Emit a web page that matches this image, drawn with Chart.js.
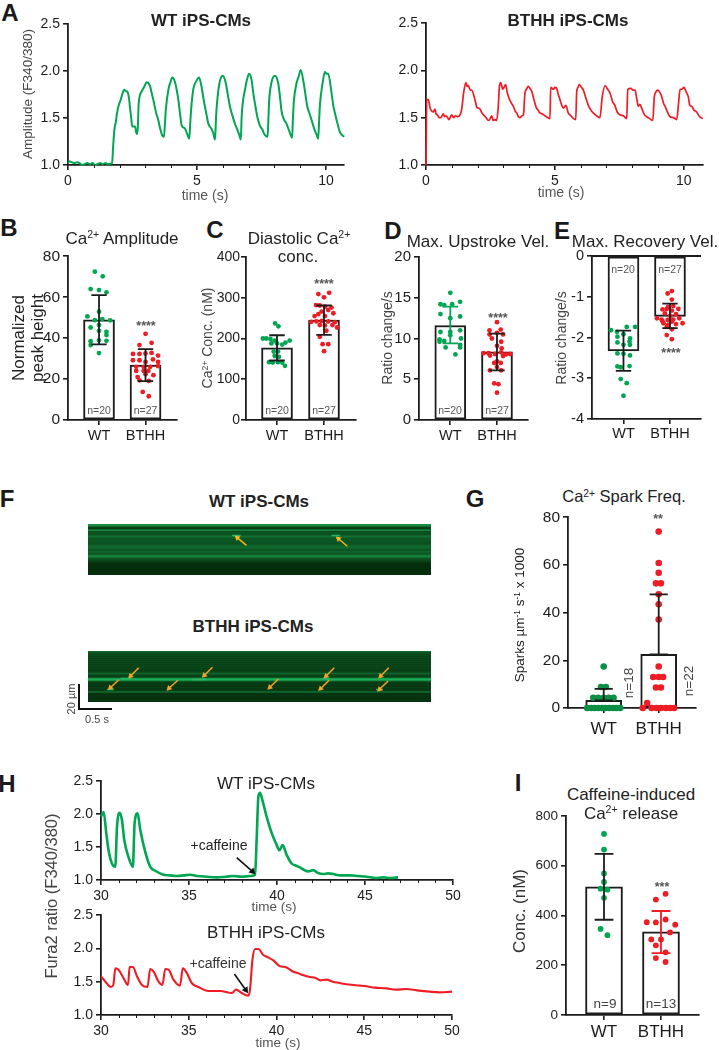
<!DOCTYPE html>
<html>
<head>
<meta charset="utf-8">
<title>Ca2+ handling in iPS-CMs</title>
<script src="https://cdn.jsdelivr.net/npm/chart.js@4/dist/chart.umd.min.js"></script>
<style>
  html, body { margin: 0; background: #fff; }
  body { position: relative; width: 719px; height: 1050px; overflow: hidden; font-family: "Liberation Sans", Arial, sans-serif; }
  canvas { position: absolute; }
  .lbl { position: absolute; white-space: nowrap; transform-origin: center; line-height: 1; }
  .lbl sup { font-size: 0.62em; line-height: 0; vertical-align: 0.5em; }
  .bar-scale { position: absolute; background: #111; }
</style>
</head>
<body>
<script>
// Panel A traces, [time, ratio]
const aWtTrace = [[0,1.02],[.05,1.04],[.15,1.03],[.25,1.02],[.35,1.03],[.45,1.02],[.55,1.0],[.65,1.01],[.75,1.02],[.85,1.01],[.95,1.02],[1.05,1.0],[1.15,1.01],[1.25,1.02],[1.35,1.01],[1.45,1.02],[1.55,1.01],[1.71,1.02],[1.75,1.2],[1.8,1.38],[1.85,1.45],[1.9,1.55],[1.95,1.62],[2.05,1.7],[2.1,1.75],[2.18,1.8],[2.23,1.79],[2.3,1.78],[2.36,1.72],[2.4,1.62],[2.45,1.5],[2.49,1.41],[2.6,1.41],[2.64,1.35],[2.69,1.33],[2.72,1.5],[2.74,1.65],[2.85,1.78],[2.95,1.83],[3.05,1.88],[3.18,1.84],[3.25,1.76],[3.31,1.69],[3.38,1.6],[3.44,1.53],[3.5,1.48],[3.57,1.39],[3.66,1.31],[3.72,1.3],[3.76,1.45],[3.79,1.58],[3.89,1.8],[3.97,1.88],[4.04,1.93],[4.15,1.88],[4.22,1.79],[4.28,1.69],[4.35,1.53],[4.41,1.42],[4.53,1.39],[4.62,1.33],[4.7,1.28],[4.74,1.45],[4.77,1.58],[4.86,1.81],[4.97,1.89],[5.08,1.93],[5.18,1.83],[5.25,1.71],[5.31,1.62],[5.38,1.52],[5.44,1.44],[5.55,1.39],[5.63,1.34],[5.7,1.27],[5.73,1.45],[5.76,1.6],[5.87,1.87],[6.0,1.95],[6.11,1.88],[6.2,1.74],[6.28,1.62],[6.38,1.52],[6.47,1.44],[6.56,1.38],[6.64,1.32],[6.7,1.27],[6.73,1.5],[6.77,1.65],[6.86,1.8],[6.94,1.91],[7.02,1.97],[7.12,1.9],[7.18,1.77],[7.25,1.65],[7.35,1.5],[7.44,1.42],[7.53,1.38],[7.63,1.32],[7.74,1.3],[7.77,1.5],[7.8,1.69],[7.89,1.88],[8.02,1.95],[8.15,1.87],[8.22,1.72],[8.28,1.57],[8.38,1.48],[8.47,1.44],[8.58,1.36],[8.69,1.29],[8.72,1.5],[8.76,1.69],[8.86,1.87],[8.95,1.95],[9.02,2.01],[9.15,1.85],[9.22,1.72],[9.28,1.62],[9.36,1.55],[9.44,1.48],[9.54,1.39],[9.64,1.32],[9.7,1.28],[9.74,1.5],[9.77,1.65],[9.87,1.87],[9.96,1.99],[10.03,1.97],[10.09,1.97],[10.22,1.76],[10.28,1.64],[10.35,1.55],[10.44,1.45],[10.54,1.35],[10.62,1.32],[10.71,1.3]];
const aBthhTrace = [[0,1.0],[.03,1.69],[.09,1.69],[.16,1.6],[.22,1.57],[.28,1.56],[.35,1.59],[.39,1.54],[.44,1.53],[.51,1.5],[.58,1.5],[.67,1.54],[.72,1.51],[.78,1.52],[.84,1.5],[.9,1.48],[.95,1.51],[1.0,1.53],[1.07,1.5],[1.15,1.52],[1.24,1.51],[1.32,1.53],[1.38,1.58],[1.47,1.78],[1.55,1.87],[1.6,1.83],[1.64,1.84],[1.72,1.79],[1.77,1.79],[1.9,1.69],[1.97,1.61],[2.04,1.6],[2.1,1.59],[2.17,1.55],[2.23,1.53],[2.33,1.5],[2.42,1.47],[2.49,1.49],[2.55,1.52],[2.61,1.47],[2.68,1.48],[2.74,1.47],[2.8,1.6],[2.85,1.83],[2.9,1.87],[2.98,1.8],[3.09,1.85],[3.15,1.77],[3.2,1.72],[3.3,1.66],[3.39,1.62],[3.46,1.57],[3.52,1.55],[3.59,1.51],[3.65,1.5],[3.72,1.52],[3.78,1.53],[3.84,1.76],[3.9,1.8],[3.97,1.83],[4.03,1.81],[4.1,1.78],[4.2,1.68],[4.29,1.6],[4.35,1.58],[4.42,1.55],[4.52,1.54],[4.62,1.52],[4.72,1.5],[4.81,1.49],[4.84,1.82],[4.95,1.8],[5.0,1.82],[5.07,1.81],[5.13,1.75],[5.2,1.69],[5.27,1.63],[5.33,1.6],[5.43,1.63],[5.52,1.55],[5.62,1.52],[5.72,1.49],[5.81,1.48],[5.85,1.78],[5.9,1.82],[5.95,1.85],[6.03,1.82],[6.11,1.79],[6.2,1.71],[6.3,1.63],[6.4,1.58],[6.49,1.55],[6.62,1.52],[6.75,1.5],[6.84,1.72],[6.95,1.84],[7.05,1.8],[7.14,1.76],[7.24,1.67],[7.33,1.63],[7.42,1.56],[7.53,1.53],[7.66,1.52],[7.79,1.49],[7.83,1.8],[7.95,1.81],[8.04,1.79],[8.11,1.79],[8.18,1.7],[8.24,1.62],[8.3,1.64],[8.37,1.6],[8.46,1.54],[8.56,1.51],[8.68,1.49],[8.8,1.47],[8.86,1.72],[8.92,1.77],[8.99,1.79],[9.07,1.77],[9.15,1.72],[9.22,1.65],[9.28,1.62],[9.37,1.56],[9.47,1.51],[9.6,1.5],[9.73,1.48],[9.8,1.65],[9.86,1.8],[9.93,1.8],[10.01,1.82],[10.1,1.77],[10.18,1.72],[10.24,1.63],[10.31,1.62],[10.4,1.58],[10.5,1.56],[10.62,1.51],[10.74,1.49]];

// Panels B-E, G, I: bar heights, sd limits and the dots (x offset from bar centre, value)
const bMeans = [49, 26.8], bHigh = [61, 34.6], bLow = [37, 19];
const bWtOff = [-.09,.08,-.18,0,.16,-.25,0,-.09,.07,.24,0,-.18,.16,0,.16,-.18,0,.16,-.18,0];
const bWtVal = [72.5,70.2,64,63.5,62.4,50.6,52.9,48.8,49.3,48.7,46.4,45.2,43.1,43.6,41.5,38.5,38.9,38.7,36.6,32.7];
const bBthhOff = [0,-.13,.13,-.27,-.13,0,.13,.27,-.27,-.13,0,.16,.27,-.2,-.04,.1,.27,-.2,-.04,.06,-.17,0,.17,-.13,.07,-.06,.07];
const bBthhVal = [42.1,36.6,37.7,32.3,32.3,32.5,32.8,31.5,29.2,29.2,28.4,29.6,28.4,26,26,26,26.3,24,24,24,21,22.4,21.9,19.4,19.1,13.7,11.6];

const cMeans = [177, 245], cHigh = [208, 281], cLow = [146, 209];
const cWtOff = [-.04,.03,-.3,-.23,-.14,-.05,.27,.18,.11,0,-.12,-.07,.02,-.05,.04,-.17,-.09,.02,.11,.17];
const cWtVal = [237,230,200,200,199,195,195,190,185,188,188,168,168,157,155,142,141,142,141,133];
const cBthhOff = [-.12,.11,0,-.17,-.09,.02,.16,.09,-.05,-.2,-.12,.02,.2,-.27,-.16,-.05,.09,.23,-.09,.02,.18,.28,.05,-.09,.09,-.03,0];
const cBthhVal = [309,312,301,282,281,278,276,270,266,255,260,255,262,241,242,243,242,240,233,232,233,227,219,204,186,186,169];

const dMeans = [11.6, 8.35], dHigh = [13.9, 10.6], dLow = [9.4, 6.1];
const dWtOff = [0,-.21,-.13,.04,.21,-.21,0,.21,-.21,0,.21,0,-.23,-.13,-.23,.23,.21,-.1,.21,.11];
const dWtVal = [15.6,14.2,14.1,14.2,14.5,13,12.5,12.7,10.8,10.8,11,10.4,9.9,9.7,9.6,10,9.2,8.9,8.9,8.05];
const dBthhOff = [0,-.16,.08,0,.13,-.16,-.11,.09,0,.1,-.29,-.18,-.04,.09,.19,.28,-.15,.13,0,-.06,.08,0,-.15,.09,-.06,.03,0];
const dBthhVal = [12,11,11.1,10.7,10.5,10.5,10,9.6,9.1,8.8,8.2,8.2,8.1,8.3,8.05,8.1,7.9,7.85,7.2,7,7,6.5,6.1,6.1,4.5,4.4,3.35];

const eMeans = [-2.33, -1.48], eHigh = [-1.83, -1.17], eLow = [-2.82, -1.77];
const eWtOff = [-.27,-.14,.07,.25,-.13,0,.14,-.13,.13,0,.14,-.13,0,.14,-.13,-.06,.13,-.06,.07,0];
const eWtVal = [-1.82,-1.86,-1.74,-1.74,-1.98,-1.92,-2.02,-2.12,-2.1,-2.18,-2.18,-2.39,-2.4,-2.44,-2.71,-2.73,-2.7,-3.02,-3.12,-3.43];
const eBthhOff = [.04,-.05,.04,-.04,.07,-.16,-.07,.04,.18,-.11,.01,.13,-.28,-.18,-.05,.07,.2,-.14,-.04,.13,.27,-.07,.04,-.07,.04,-.16,.04];
const eBthhVal = [-.86,-.92,-1.07,-1.25,-1.23,-1.31,-1.3,-1.34,-1.3,-1.41,-1.47,-1.43,-1.53,-1.56,-1.57,-1.56,-1.53,-1.65,-1.69,-1.67,-1.65,-1.74,-1.8,-1.94,-2.04,-1.6,-1.61];

const gMeans = [3.2, 22.5], gHigh = [8, 47.7], gLow = [3.2, 22.5];
const gWtOff = [0,-.05,.04,-.19,-.1,0,.09,.18,-.3,-.23,-.17,-.1,-.03,.03,.1,.17,.23,.3];
const gWtVal = [17.4,8.8,8.8,4.3,4.3,4.3,4.3,4.3,0,0,0,0,0,0,0,0,0,0];
const gBthhOff = [0,0,0,-.05,.04,0,0,0,0,-.1,0,.08,-.05,.04,-.21,-.29,-.13,-.04,.04,.13,.21,.28];
const gBthhVal = [74,60.8,56.7,52.3,52.3,47.7,43.5,37.1,17.4,13,13,13,8.6,8.6,2.1,0,0,0,0,0,0,0];

const iMeans = [515, 334], iHigh = [648, 418], iLow = [383, 249];
const iWtOff = [0,0,0,0,-.06,.06,0,-.06,.06];
const iWtVal = [728,665,569,535,508,504,471,346,321];
const iBthhOff = [.08,-.09,.08,-.25,-.09,.25,.16,-.17,0,-.09,.08,-.09,.08];
const iBthhVal = [487,464,384,373,372,363,332,304,304,280,252,229,213];

// Panel F linescans: brightness of each pixel row, top to bottom
const fWtRows = [.72,.68,.45,.2,.16,.45,.62,.27,.3,.3,.27,.42,.5,.38,.34,.3,.34,.3,.3,.27,.34,.38,.42,.46,.38,.34,.3,.42,.38,.3,.38,.58,.62,.46,.3,.26,.22,.17,.1,.05,.05,.05,.04,.04,.05,.04,.04,.05,.04,.04,.06];
const fBthhRows = [.45,.32,.27,.22,.25,.2,.23,.18,.22,.2,.23,.18,.21,.18,.22,.18,.21,.18,.2,.16,.2,.26,.45,.26,.22,.18,.3,.8,.9,.72,.3,.16,.12,.16,.12,.12,.16,.12,.12,.16,.4,.36,.1,.08,.1,.08,.06,.08,.1,.08,.1];
// sparks: [x start, x end, row]
const fWtSparks = [[42,44.5,11.5],[71,73.5,11.5]];
const fBthhSparks = [[9.5,12.5,27.5],[30.5,34.5,28.5],[68.5,70.5,27.5],[5.5,7.5,38.5],[84,86,38.5]];
// arrows: [tail x, tail y, head x, head y]
const fWtArrows = [[46.2,21.3,43.5,13.7],[75.6,22.3,73,14.7]];
const fBthhArrows = [[14.8,16.7,12.4,25],[36.3,16.3,33.9,24.3],[71.8,16.7,69.4,25],[87.7,16.7,85.3,25],[9,28.7,6.5,36.7],[26.2,29.3,23.6,37.3],[55.5,28,53,36.3],[70.3,29.3,67.8,37.7],[87.5,30,85,38.3]];

// Panel H traces
const hWtTrace = [[30,1.96],[30.15,2.03],[30.3,1.71],[30.43,1.45],[30.62,1.25],[30.81,1.2],[30.91,1.81],[31.06,2.02],[31.19,1.91],[31.32,1.61],[31.57,1.34],[31.81,1.2],[31.91,1.86],[32.08,2.01],[32.23,1.76],[32.51,1.43],[32.8,1.2],[33.08,1.14],[33.55,1.08],[33.9,1.07],[34.3,1.06],[34.7,1.07],[35.07,1.08],[35.5,1.06],[36,1.05],[36.58,1.04],[37.1,1.05],[37.52,1.06],[38,1.05],[38.47,1.06],[38.75,1.08],[38.85,1.66],[38.94,2.26],[39.04,2.32],[39.17,2.21],[39.41,1.96],[39.7,1.71],[39.98,1.53],[40.13,1.45],[40.32,1.53],[40.55,1.38],[40.83,1.25],[41.05,1.22],[41.3,1.19],[41.55,1.15],[41.78,1.13],[42.06,1.15],[42.3,1.11],[42.63,1.09],[42.9,1.1],[43.2,1.09],[43.6,1.07],[44.14,1.07],[44.6,1.06],[45.09,1.05],[45.6,1.03],[46.03,1.04],[46.5,1.03],[46.88,1.04]];
const hBthhTrace = [[30,1.58],[30.25,1.5],[30.57,1.42],[30.7,1.45],[30.82,1.7],[31,1.68],[31.29,1.55],[31.54,1.45],[31.63,1.72],[31.82,1.72],[32.05,1.58],[32.33,1.45],[32.65,1.42],[32.8,1.69],[33,1.65],[33.28,1.5],[33.5,1.45],[33.66,1.69],[33.85,1.68],[34.13,1.53],[34.5,1.44],[34.66,1.7],[34.89,1.63],[35.17,1.48],[35.55,1.42],[36.12,1.36],[36.79,1.36],[37.45,1.33],[37.7,1.38],[38.02,1.33],[38.4,1.29],[38.49,1.38],[38.63,1.83],[38.78,1.99],[38.97,1.99],[39.25,1.9],[39.55,1.86],[39.82,1.82],[40.2,1.73],[40.5,1.72],[40.96,1.65],[41.2,1.63],[41.5,1.6],[41.9,1.57],[42.2,1.56],[42.5,1.52],[42.85,1.53],[43.2,1.5],[43.6,1.48],[43.99,1.46],[44.4,1.45],[44.8,1.44],[45.13,1.43],[45.6,1.41],[46.27,1.4],[46.8,1.38],[47.4,1.39],[48,1.37],[48.73,1.35],[49.3,1.34],[50,1.35]];
const hWtArrow = [37.71,1.34,38.6,1.13];
const hBthhArrow = [37.6,1.615,38.25,1.375];

const barNames = ['WT', 'BTHH'];
const aTimeTicks = [0, 5, 10], aTimeMinor = [1,2,3,4,6,7,8,9];
const aRatioTicks = [1, 1.5, 2, 2.5];
const hTimeTicks = [30, 35, 40, 45, 50], hTimeMinor = [31,32,33,34,36,37,38,39,41,42,43,44,46,47,48,49];

const GREEN = '#00a651', RED = '#ee1c25', DARK = '#1c1c1c';
Chart.defaults.font.family = '"Liberation Sans", Arial, sans-serif';
Chart.defaults.animation = false;
Chart.defaults.events = [];

const ML = 46, MR = 16, MT = 12, MB = 34;

function toXY(pairs) { return pairs.map(p => ({ x: p[0], y: p[1] })); }

function minorTicks(values) {
  return {
    id: 'minorTicks',
    afterDraw(chart) {
      const c = chart.ctx, sx = chart.scales.x, b = chart.chartArea.bottom;
      c.save();
      c.strokeStyle = DARK; c.lineWidth = 1;
      values.forEach(v => {
        const px = Math.round(sx.getPixelForValue(v)) + 0.5;
        c.beginPath(); c.moveTo(px, b); c.lineTo(px, b + 3); c.stroke();
      });
      c.restore();
    }
  };
}

// every panel gets its own canvas placed so the plot area lands on the given box
function panel(x0, x1, top, bottom, datasets, xScale, yScale, plugins) {
  const cv = document.createElement('canvas');
  cv.style.left = (x0 - ML) + 'px';
  cv.style.top = (top - MT) + 'px';
  cv.width = x1 - x0 + ML + MR;
  cv.height = bottom - top + MT + MB;
  document.body.appendChild(cv);
  xScale.afterFit = s => { s.height = MB; };
  yScale.afterFit = s => { s.width = ML; };
  return new Chart(cv.getContext('2d'), {
    type: 'bar',
    data: { datasets },
    options: {
      responsive: false,
      layout: { autoPadding: false, padding: { top: MT, right: MR, left: 0, bottom: 0 } },
      plugins: { legend: { display: false }, tooltip: { enabled: false } },
      scales: { x: xScale, y: yScale }
    },
    plugins: plugins || []
  });
}

function axis(min, max, tickList, fmt, size, pad, extra) {
  return Object.assign({
    type: 'linear', min, max, offset: false,
    border: { color: DARK, width: 1.8 },
    grid: { drawOnChartArea: false, offset: false, color: DARK, tickLength: 5, lineWidth: 1.6 },
    afterBuildTicks: s => { s.ticks = tickList.map(v => ({ value: v })); },
    ticks: { color: DARK, padding: pad, maxRotation: 0, autoSkip: false, font: { size }, callback: fmt }
  }, extra || {});
}

function traceSet(pairs, color, width) {
  return { type: 'line', data: toXY(pairs), borderColor: color, borderWidth: width, pointRadius: 0, cubicInterpolationMode: 'monotone', clip: false, order: 1 };
}

function arrowSet(a, color, rot, width, head) {
  return {
    type: 'line', data: [{ x: a[0], y: a[1] }, { x: a[2], y: a[3] }],
    borderColor: color, borderWidth: width, tension: 0, clip: false, order: 0,
    pointRadius: [0, head], pointStyle: 'triangle', pointRotation: [0, rot],
    pointBackgroundColor: color, pointBorderColor: color, pointBorderWidth: 0
  };
}

function tracePanel(x0, x1, top, bottom, xMax, xMin, pairs, color, xTicks, xMinor, width, extra, pad) {
  const ds = [traceSet(pairs, color, width)].concat(extra || []);
  panel(x0, x1, top, bottom, ds,
    axis(xMin, xMax, xTicks, v => v, 14, pad),
    axis(1, 2.5, aRatioTicks, v => Number(v).toFixed(1), 14, 3),
    [minorTicks(xMinor)]);
}

function errorSet(c, hi, lo, color) {
  const w = 0.165;
  return {
    type: 'line', borderColor: color, borderWidth: 1.8, pointRadius: 0, tension: 0, clip: false, order: 0,
    data: [
      { x: c - w, y: hi }, { x: c + w, y: hi }, { x: c, y: null },
      { x: c, y: hi }, { x: c, y: lo }, { x: c, y: null },
      { x: c - w, y: lo }, { x: c + w, y: lo }
    ]
  };
}

function dotSet(c, off, val, color, r) {
  return {
    type: 'line', showLine: false, clip: false, order: 1,
    data: off.map((o, i) => ({ x: c + o, y: val[i] })),
    pointRadius: r, pointBackgroundColor: color, pointBorderWidth: 0
  };
}

function barPanel(o) {
  const ds = [
    {
      type: 'bar', order: 2, clip: false,
      data: o.means.map((m, i) => ({ x: i + 1, y: m })),
      backgroundColor: '#fff', borderColor: DARK, borderWidth: 2, borderSkipped: false, barThickness: o.barWidth
    },
    dotSet(1, o.dots[0], o.dots[1], o.wtColor || GREEN, o.r),
    dotSet(2, o.dots[2], o.dots[3], RED, o.r),
    errorSet(1, o.high[0], o.low[0], o.errColors ? o.errColors[0] : DARK),
    errorSet(2, o.high[1], o.low[1], o.errColors ? o.errColors[1] : DARK)
  ];
  if (o.zeroLine) {
    ds.push({ type: 'line', data: [{ x: o.xMin, y: 0 }, { x: o.xMax, y: 0 }], borderColor: DARK, borderWidth: 1.8, pointRadius: 0, clip: false, order: 0 });
  }
  panel(o.box[0], o.box[1], o.box[2], o.box[3], ds,
    axis(o.xMin, o.xMax, [1, 2], v => barNames[v - 1], o.catSize, o.catPad),
    axis(o.yTicks[0], o.yTicks[o.yTicks.length - 1], o.yTicks, v => v, o.tickSize, o.yPad === undefined ? 3 : o.yPad));
}

function label(html, x, y, size, opts) {
  opts = opts || {};
  const d = document.createElement('div');
  d.className = 'lbl';
  d.innerHTML = html;
  d.style.left = x + 'px';
  d.style.top = y + 'px';
  d.style.fontSize = size + 'px';
  d.style.color = opts.color || '#222';
  if (opts.bold) d.style.fontWeight = 'bold';
  d.style.transform = 'translate(-50%,-50%)' + (opts.rotate ? ' rotate(' + opts.rotate + 'deg)' : '');
  document.body.appendChild(d);
}

// Panel A
tracePanel(68, 344, 24, 165, 10.7, 0, aWtTrace, GREEN, aTimeTicks, aTimeMinor, 2);
tracePanel(426, 703, 23, 165, 10.75, 0, aBthhTrace, RED, aTimeTicks, aTimeMinor, 1.7);

// Panels B-E
barPanel({ box: [68, 177, 256, 420], means: bMeans, high: bHigh, low: bLow, dots: [bWtOff, bWtVal, bBthhOff, bBthhVal],
  yTicks: [0, 20, 40, 60, 80], xMin: .333, xMax: 2.677, barWidth: 31, r: 2.4, tickSize: 15.5, catSize: 14.5, catPad: 2 });
barPanel({ box: [246, 356, 257, 420], means: cMeans, high: cHigh, low: cLow, dots: [cWtOff, cWtVal, cBthhOff, cBthhVal],
  yTicks: [0, 100, 200, 300, 400], xMin: .34, xMax: 2.681, barWidth: 31, r: 2.4, tickSize: 14, catSize: 14.5, catPad: 2, yPad: 1 });
barPanel({ box: [419, 528, 257, 420], means: dMeans, high: dHigh, low: dLow, dots: [dWtOff, dWtVal, dBthhOff, dBthhVal],
  errColors: [GREEN, DARK], yTicks: [0, 5, 10, 15, 20], xMin: .33, xMax: 2.664, barWidth: 31, r: 2.4, tickSize: 15, catSize: 14.5, catPad: 2 });
barPanel({ box: [592, 701, 256, 419], means: eMeans, high: eHigh, low: eLow, dots: [eWtOff, eWtVal, eBthhOff, eBthhVal],
  yTicks: [-4, -3, -2, -1, 0], xMin: .323, xMax: 2.667, zeroLine: true, barWidth: 31, r: 2.4, tickSize: 14.5, catSize: 14.5, catPad: 1 });

// Panel F, each pixel row is a thin line across the scan
function scanShade(v) {
  return 'rgb(' + Math.round(4 + 26 * v) + ',' + Math.round(38 + 150 * v) + ',' + Math.round(8 + 85 * v) + ')';
}
function scanPanel(top, rows, sparks, arrows, arrowColor, rot) {
  const ds = rows.map((v, i) => ({
    type: 'line', data: [{ x: 0, y: i + .5 }, { x: 100, y: i + .5 }],
    borderColor: scanShade(v), borderWidth: 1.1, pointRadius: 0, order: 3
  }));
  sparks.forEach(s => ds.push({
    type: 'line', data: [{ x: s[0], y: s[2] }, { x: s[1], y: s[2] }],
    borderColor: '#2bb56a', borderWidth: 1.5, pointRadius: 0, order: 2
  }));
  arrows.forEach(a => ds.push(arrowSet(a, arrowColor, rot, 1.5, 3.4)));
  const cv = document.createElement('canvas');
  cv.style.left = '88px'; cv.style.top = top + 'px';
  cv.style.filter = 'blur(0.45px)';
  cv.width = 343; cv.height = 51;
  document.body.appendChild(cv);
  new Chart(cv.getContext('2d'), {
    type: 'line', data: { datasets: ds },
    options: {
      responsive: false,
      layout: { autoPadding: false },
      plugins: { legend: { display: false }, tooltip: { enabled: false } },
      scales: {
        x: { type: 'linear', min: 0, max: 100, display: false },
        y: { type: 'linear', min: 0, max: 51, reverse: true, display: false }
      }
    }
  });
}
scanPanel(524, fWtRows, fWtSparks, fWtArrows, '#f6b71c', -50);
scanPanel(651, fBthhRows, fBthhSparks, fBthhArrows, '#f3a32b', 225);

// Panel G
barPanel({ box: [568, 696, 517, 708], means: gMeans, high: gHigh, low: gLow, dots: [gWtOff, gWtVal, gBthhOff, gBthhVal],
  wtColor: '#0c8f45', yTicks: [0, 20, 40, 60, 80], xMin: .351, xMax: 2.678, barWidth: 36, r: 3.3, tickSize: 15.5, catSize: 17, catPad: 6 });

// Panel H
tracePanel(101, 453, 781, 880, 50, 30, hWtTrace, GREEN, hTimeTicks, hTimeMinor, 2.6,
  [arrowSet(hWtArrow, '#111', 135, 1.6, 4)], 3);
tracePanel(101, 452, 915, 1015, 50, 30, hBthhTrace, RED, hTimeTicks, hTimeMinor, 2.1,
  [arrowSet(hBthhArrow, '#111', 145, 1.6, 4)], 3);

// Panel I
barPanel({ box: [566, 699, 816, 1015], means: iMeans, high: iHigh, low: iLow, dots: [iWtOff, iWtVal, iBthhOff, iBthhVal],
  errColors: [DARK, RED], yTicks: [0, 200, 400, 600, 800], xMin: .333, xMax: 2.667, barWidth: 37, r: 2.9, tickSize: 13.5, catSize: 17, catPad: 2 });

// Panel letters
[['A',10,13],['B',9,228],['C',215,230],['D',393,231],['E',562,231],['F',7,499],['G',475,499],['H',7,784],['I',518,783]]
  .forEach(l => label(l[0], l[1], l[2], 24, { bold: true, color: '#1a1a1a' }));

// Titles
label('WT iPS-CMs', 201, 20, 17, { bold: true });
label('BTHH iPS-CMs', 568, 20, 17, { bold: true });
label('Ca<sup>2+</sup> Amplitude', 122, 238, 17);
label('Diastolic Ca<sup>2+</sup>', 299, 238, 17);
label('conc.', 298, 256, 17);
label('Max. Upstroke Vel.', 478, 241, 17);
label('Max. Recovery Vel.', 645, 241, 17);
label('WT iPS-CMs', 259, 501, 17, { bold: true });
label('BTHH iPS-CMs', 253, 626, 17, { bold: true });
label('Ca<sup>2+</sup> Spark Freq.', 624, 496, 16.5);
label('WT iPS-CMs', 266, 783, 17);
label('BTHH iPS-CMs', 266, 932, 17);
label('Caffeine-induced', 631, 794, 17);
label('Ca<sup>2+</sup> release', 631, 813, 17);

// Axis titles
label('Amplitude (F340/380)', 28, 94, 13.5, { rotate: -90, color: '#444' });
label('time (s)', 205, 195, 14, { color: '#555' });
label('time (s)', 561, 192, 14, { color: '#555' });
label('Normalized', 18, 338, 17, { rotate: -90 });
label('peak height', 37, 338, 17, { rotate: -90 });
label('Ca<sup>2+</sup> Conc. (nM)', 207, 338, 14, { rotate: -90, color: '#444' });
label('Ratio change/s', 387, 338, 14, { rotate: -90, color: '#444' });
label('Ratio change/s', 561, 338, 14, { rotate: -90, color: '#444' });
label('Sparks µm<sup>-1</sup> s<sup>-1</sup> x 1000', 520, 615, 13.5, { rotate: -90 });
label('Fura2 ratio (F340/380)', 51, 896, 16.5, { rotate: -90, color: '#444' });
label('time (s)', 274, 907, 13.5, { color: '#555' });
label('time (s)', 278, 1043, 13.5, { color: '#555' });
label('Conc. (nM)', 519, 911, 17, { rotate: -90, color: '#333' });

// n= and significance marks
[[99,410,'n=20'],[145.5,410,'n=27'],[277,410,'n=20'],[324,410,'n=27'],[450,410,'n=20'],[497,410,'n=27'],[623,269,'n=20'],[670,269,'n=27']]
  .forEach(n => label(n[2], n[0], n[1], 10.5, { color: '#555' }));
label('n=18', 629, 683, 13.5, { rotate: -90, color: '#444' });
label('n=22', 689, 681, 13.5, { rotate: -90, color: '#444' });
label('n=9', 605, 1004, 13.5, { color: '#444' });
label('n=13', 661, 1004, 13.5, { color: '#444' });
[[146,326,'****'],[324,284,'****'],[498,318,'****'],[671,353,'****'],[658,519,'**'],[662,887,'***']]
  .forEach(s => label(s[2], s[0], s[1], 12.5, { color: '#555', bold: true }));

label('+caffeine', 219, 845, 14);
label('+caffeine', 218, 963, 14, { color: '#333' });

// Scale bar for panel F
[[78, 684, 2, 26], [78, 708, 34, 2]].forEach(r => {
  const d = document.createElement('div');
  d.className = 'bar-scale';
  d.style.left = r[0] + 'px'; d.style.top = r[1] + 'px';
  d.style.width = r[2] + 'px'; d.style.height = r[3] + 'px';
  document.body.appendChild(d);
});
label('20 µm', 71, 699, 11, { rotate: -90, color: '#444' });
label('0.5 s', 97, 719, 11, { color: '#444' });
</script>
</body>
</html>
